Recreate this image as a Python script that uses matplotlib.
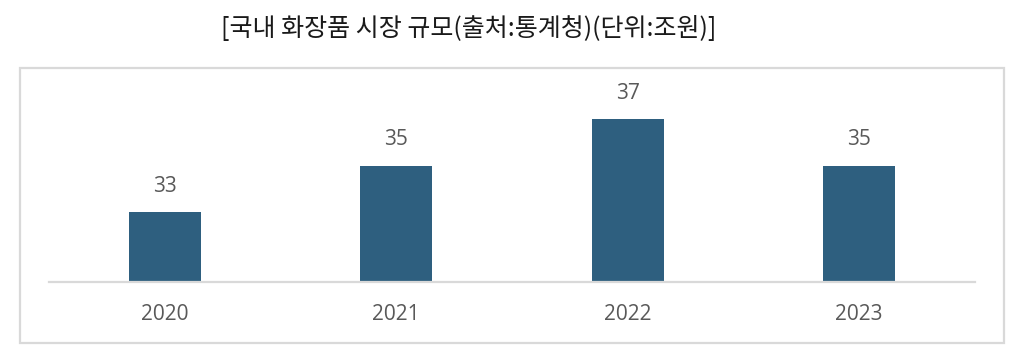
import matplotlib
matplotlib.use("Agg")
import matplotlib.pyplot as plt
from matplotlib.patches import Rectangle

years = ["2020", "2021", "2022", "2023"]
values = [33, 35, 37, 35]
title = "[국내 화장품 시장 규모(출처:통계청)(단위:조원)]"

W, H = 1028, 362
fig = plt.figure(figsize=(W / 100, H / 100), dpi=100)
fig.patch.set_facecolor("white")

# outer box
box = Rectangle((20 / W, 1 - 343 / H), (1004 - 20) / W, (343 - 68) / H,
                transform=fig.transFigure, fill=False, edgecolor="#d9d9d9",
                linewidth=1.6, zorder=0)
fig.patches.append(box)

fig.text(469 / W, 1 - 29 / H, title, ha="center", va="center",
         fontsize=18, color="#1a1a1a", family=["Noto Sans CJK KR", "DejaVu Sans"])

ax_left, ax_right = 49 / W, 975 / W
ax_bottom = 1 - 282 / H
ax_top = 1 - 70 / H
ax = fig.add_axes([ax_left, ax_bottom, ax_right - ax_left, ax_top - ax_bottom])
ax.set_facecolor("none")

x = list(range(len(years)))
bars = ax.bar(x, values, width=0.31, color="#2e5f7f", zorder=2)
ax.set_xlim(-0.5, len(years) - 0.5)
ax.set_ylim(30, 39.1)

for xi, v in zip(x, values):
    ax.annotate(f"{v}", (xi, v), xytext=(0, 14.5), textcoords="offset points",
                ha="center", va="baseline", fontsize=15, color="#595959",
                family="Open Sans")

ax.set_xticks(x)
ax.set_xticklabels(years, fontsize=15, color="#595959", family="Open Sans")
ax.tick_params(axis="x", length=0, pad=16)
ax.set_yticks([])
for s in ["left", "right", "top"]:
    ax.spines[s].set_visible(False)
ax.spines["bottom"].set_color("#d9d9d9")
ax.spines["bottom"].set_linewidth(1.6)

fig.savefig("out.png", dpi=100)
